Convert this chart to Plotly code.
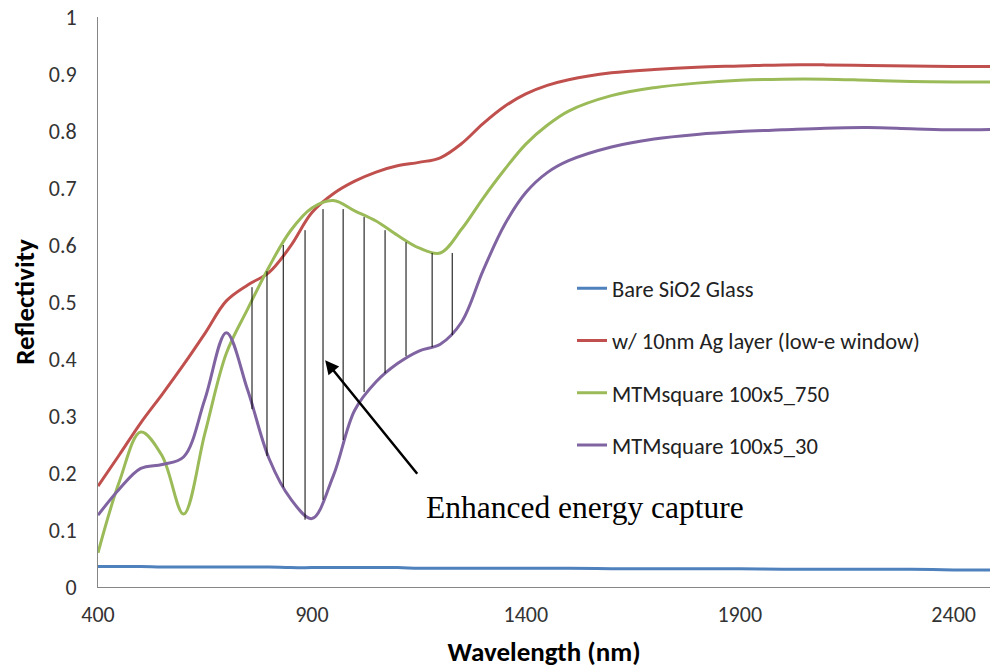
import plotly.graph_objects as go

# Reflectivity spectra (wavelength in nm)
wavelength = [400, 450, 500, 550, 600, 650, 700, 750, 800, 850, 900, 950, 1000,
              1050, 1100, 1150, 1200, 1250, 1300, 1350, 1400, 1450, 1500, 1600,
              1700, 1800, 1900, 2000, 2100, 2200, 2300, 2400, 2500]

bare_sio2 = [0.036, 0.036, 0.036, 0.035, 0.035, 0.035, 0.035, 0.035, 0.035, 0.034,
             0.034, 0.034, 0.034, 0.034, 0.034, 0.033, 0.033, 0.033, 0.033, 0.033,
             0.033, 0.033, 0.033, 0.032, 0.032, 0.032, 0.032, 0.031, 0.031, 0.031,
             0.031, 0.030, 0.030]

ag_layer = [0.177, 0.232, 0.288, 0.338, 0.390, 0.445, 0.502, 0.530, 0.552, 0.598,
            0.657, 0.690, 0.712, 0.728, 0.739, 0.745, 0.753, 0.778, 0.813, 0.843,
            0.865, 0.880, 0.890, 0.902, 0.908, 0.912, 0.914, 0.916, 0.916, 0.915,
            0.914, 0.913, 0.913]

mtm_750 = [0.060, 0.185, 0.272, 0.230, 0.128, 0.270, 0.410, 0.488, 0.562, 0.625,
           0.665, 0.678, 0.660, 0.642, 0.617, 0.595, 0.586, 0.628, 0.682, 0.732,
           0.777, 0.810, 0.835, 0.862, 0.876, 0.884, 0.889, 0.891, 0.891, 0.889,
           0.887, 0.886, 0.886]

mtm_30 = [0.126, 0.172, 0.208, 0.215, 0.228, 0.330, 0.446, 0.345, 0.225, 0.155,
          0.120, 0.195, 0.310, 0.360, 0.392, 0.414, 0.426, 0.465, 0.555, 0.635,
          0.692, 0.727, 0.748, 0.772, 0.786, 0.794, 0.799, 0.802, 0.805, 0.806,
          0.804, 0.802, 0.803]

series_names = ["Bare SiO2 Glass", "w/ 10nm Ag layer (low-e window)",
                "MTMsquare 100x5_750", "MTMsquare 100x5_30"]
series_values = [bare_sio2, ag_layer, mtm_750, mtm_30]
series_colors = ["#4F81BD", "#C0504D", "#9BBB59", "#8064A2"]

# Hatching between the two MTM curves: wavelength, top and bottom reflectivity
hatch_x = [760, 795, 833, 884, 926, 973, 1022, 1071, 1120, 1181, 1228]
hatch_top = [0.526, 0.554, 0.600, 0.626, 0.663, 0.663, 0.649, 0.626, 0.605, 0.586, 0.586]
hatch_bottom = [0.312, 0.230, 0.175, 0.118, 0.153, 0.258, 0.342, 0.375, 0.405, 0.421, 0.442]

y_ticks = [0, 0.1, 0.2, 0.3, 0.4, 0.5, 0.6, 0.7, 0.8, 0.9, 1]
y_tick_text = ["0", "0.1", "0.2", "0.3", "0.4", "0.5", "0.6", "0.7", "0.8", "0.9", "1"]
x_ticks = [400, 900, 1400, 1900, 2400]

SANS = "Carlito, Liberation Sans, Arial, sans-serif"

fig = go.Figure()
for i, (name, vals, col) in enumerate(zip(series_names, series_values, series_colors)):
    fig.add_trace(go.Scatter(
        x=wavelength, y=vals, mode="lines", name=name,
        line=dict(color=col, width=3, shape="spline", smoothing=1.0),
        legendgroup=f"g{i}",
    ))

for hx, ht, hb in zip(hatch_x, hatch_top, hatch_bottom):
    fig.add_shape(type="line", xref="x", yref="y", x0=hx, x1=hx, y0=hb, y1=ht,
                  line=dict(color="black", width=1))

fig.add_annotation(x=931, y=0.398, ax=1149, ay=0.196, xref="x", yref="y",
                   axref="x", ayref="y", text="", showarrow=True,
                   arrowhead=2, arrowsize=1.1, arrowwidth=2.5, arrowcolor="black",
                   standoff=0)
fig.add_annotation(x=1163, y=0.139, xref="x", yref="y", text="Enhanced energy capture",
                   showarrow=False, xanchor="left", yanchor="middle",
                   font=dict(family="Liberation Serif, Times New Roman, serif",
                             size=31.5, color="black"))

fig.update_layout(
    width=990, height=668,
    margin=dict(l=98, r=0, t=17, b=81),
    paper_bgcolor="white", plot_bgcolor="white",
    font=dict(family=SANS, size=22, color="#333333"),
    showlegend=True,
    legend=dict(x=0.5314, y=0.561, xanchor="left", yanchor="top",
                bgcolor="rgba(0,0,0,0)", font=dict(size=22.5, color="#222222"),
                traceorder="grouped", tracegroupgap=20),
    xaxis=dict(range=[400, 2485], tickvals=x_ticks, showgrid=False, zeroline=False,
               showline=True, linecolor="#868686", linewidth=1, ticks="",
               ticklabelstandoff=8,
               title=dict(text="<b>Wavelength (nm)</b>", standoff=15,
                          font=dict(size=27, color="black"))),
    yaxis=dict(range=[0, 1], tickvals=y_ticks, ticktext=y_tick_text, showgrid=False,
               zeroline=False, showline=True, linecolor="#868686", linewidth=1,
               ticks="", ticklabelstandoff=16,
               title=dict(text="<b>Reflectivity</b>", standoff=6,
                          font=dict(size=27, color="black"))),
)

fig.write_html("out.html")
